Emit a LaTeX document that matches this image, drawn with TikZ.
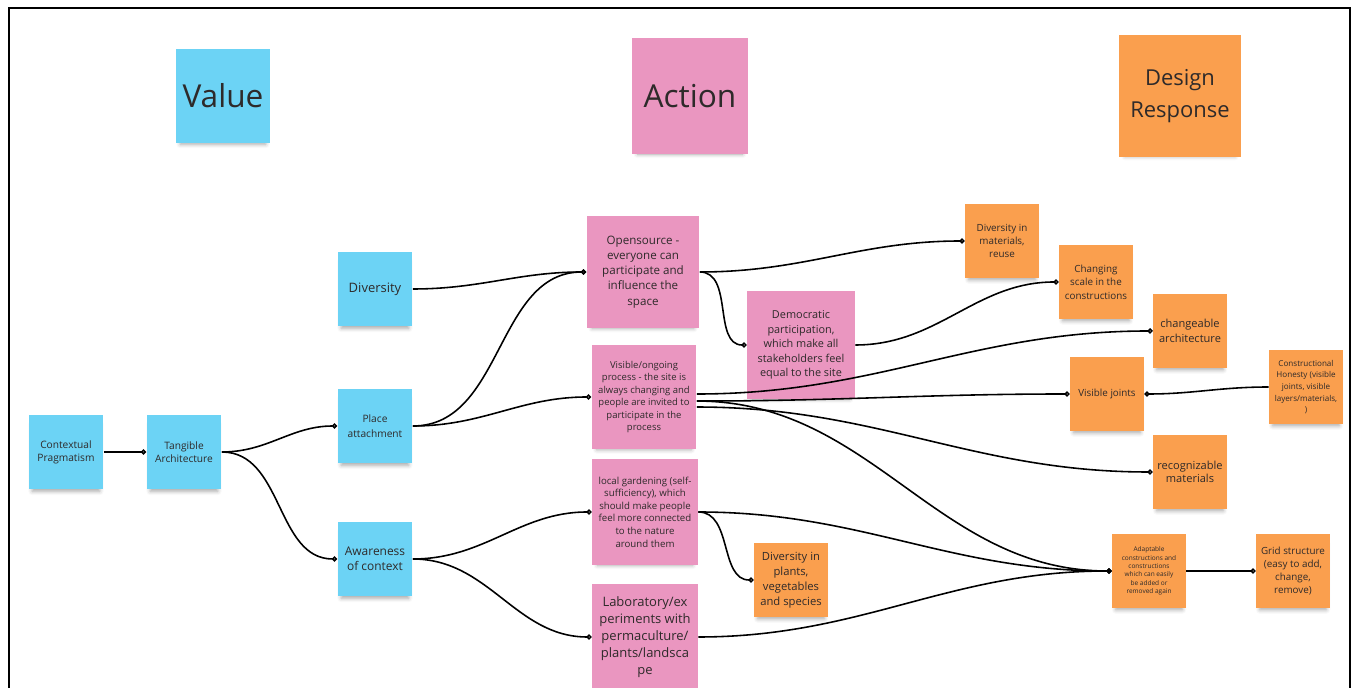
\documentclass[tikz,border=0pt]{standalone}
\usepackage{fontspec}
\setmainfont{Open Sans}
\usetikzlibrary{arrows.meta}
\usetikzlibrary{shadows.blur}

\definecolor{noteblue}{HTML}{6CD3F5}
\definecolor{notepink}{HTML}{EA96C0}
\definecolor{noteorange}{HTML}{FA9F4E}
\definecolor{notetext}{HTML}{2E2A2A}

\tikzset{
  note/.style={minimum width=#1, minimum height=#1, inner sep=1pt, align=center,
    text=notetext, blur shadow={shadow xshift=0pt, shadow yshift=-3.5pt,
    shadow opacity=35, shadow scale=0.9, shadow blur radius=2.5pt}},
  bluenote/.style={note=#1, fill=noteblue},
  pinknote/.style={note=#1, fill=notepink},
  orangenote/.style={note=#1, fill=noteorange},
  link/.style={line width=0.9pt, -{Circle[open,length=3pt,width=3pt]}},
}

\begin{document}
\begin{tikzpicture}[x=0.02cm, y=-0.02cm]
    \useasboundingbox (0,0) rectangle (1353,688);
    \draw[line width=1.6pt](9,690)--(9,8)--(1350,8)--(1350,690);%frame
    % - Column headings
    \node[bluenote=1.9cm, font=\fontsize{18}{22}\selectfont] (value) at (223,96){Value};
    \node[pinknote=2.34cm, font=\fontsize{18}{22}\selectfont] (action) at (690,96){Action};
    \node[orangenote=2.44cm, font=\fontsize{12.5}{18}\selectfont] (response) at (1180,96){Design\\Response};
    % - Values
    \node[bluenote=1.5cm, font=\fontsize{5.8}{7.4}\selectfont] (contextual) at (66,452){Contextual\\Pragmatism};
    \node[bluenote=1.5cm, font=\fontsize{5.8}{7.4}\selectfont] (tangible) at (184,452){Tangible\\Architecture};
    \node[bluenote=1.5cm, font=\fontsize{7.4}{9}\selectfont] (diversity) at (375,289){Diversity};
    \node[bluenote=1.5cm, font=\fontsize{5.8}{8.4}\selectfont] (place) at (375,426){Place\\attachment};
    \node[bluenote=1.5cm, font=\fontsize{6.8}{8.8}\selectfont] (awareness) at (375,559){Awareness\\of context};
    % - Actions
    \node[pinknote=2.26cm, font=\fontsize{6.6}{8.6}\selectfont] (opensource) at (643,272){Opensource -\\everyone can\\participate and\\influence the\\space};
    \node[pinknote=2.16cm, font=\fontsize{6.2}{8.2}\selectfont] (democratic) at (801,345){Democratic\\participation,\\which make all\\stakeholders feel\\equal to the site};
    \node[pinknote=2.1cm, font=\fontsize{5.4}{7.1}\selectfont] (visible) at (644,397){Visible/ongoing\\process - the site is\\always changing and\\people are invited to\\participate in the\\process};
    \node[pinknote=2.12cm, font=\fontsize{5.5}{7.2}\selectfont] (gardening) at (645,512){local gardening (self-\\sufficiency), which\\should make people\\feel more connected\\to the nature\\around them};
    \node[pinknote=2.12cm, font=\fontsize{7.4}{9.6}\selectfont] (laboratory) at (645,637){Laboratory/ex\\periments with\\permaculture/\\plants/landsca\\pe};
    % - Design responses
    \node[orangenote=1.48cm, font=\fontsize{6.4}{8.5}\selectfont] (plants) at (791,580){Diversity in\\plants,\\vegetables\\and species};
    \node[orangenote=1.48cm, font=\fontsize{5.6}{7.6}\selectfont] (materials) at (1002,241){Diversity in\\materials,\\reuse};
    \node[orangenote=1.48cm, font=\fontsize{5.6}{7.6}\selectfont] (scale) at (1096,282){Changing\\scale in the\\constructions};
    \node[orangenote=1.48cm, font=\fontsize{6.3}{8.3}\selectfont] (changeable) at (1190,331){changeable\\architecture};
    \node[orangenote=1.48cm, font=\fontsize{5.6}{7.6}\selectfont] (joints) at (1107,394){Visible joints};
    \node[orangenote=1.48cm, font=\fontsize{4.6}{6.6}\selectfont] (honesty) at (1306,387){Constructional\\Honesty (visible\\joints, visible\\layers/materials,\\)};
    \node[orangenote=1.48cm, font=\fontsize{6.3}{7.6}\selectfont] (recognizable) at (1190,472){recognizable\\materials};
    \node[orangenote=1.48cm, font=\fontsize{3.7}{4.8}\selectfont] (adaptable) at (1149,571){Adaptable\\constructions and\\constructions\\which can easily\\be added or\\removed again};
    \node[orangenote=1.48cm, font=\fontsize{5.6}{7.4}\selectfont] (grid) at (1293,571){Grid structure\\(easy to add,\\change,\\remove)};
    % - Connectors
    \draw[link](contextual.east)--(tangible.west);
    \draw[link](tangible.east) to[out=0,in=180] (place.west);
    \draw[link](tangible.east) to[out=0,in=180] (awareness.west);
    \draw[link](diversity.east) to[out=0,in=180] (opensource.west);
    \draw[link](place.east) to[out=0,in=180] (opensource.west);
    \draw[link](place.east) to[out=0,in=180] (visible.west);
    \draw[link](awareness.east) to[out=0,in=180] (gardening.west);
    \draw[link](awareness.east) to[out=0,in=180] (laboratory.west);
    \draw[link](opensource.east) to[out=0,in=180] (materials.west);
    \draw[link](opensource.east) to[out=0,in=180] (democratic.west);
    \draw[link](democratic.east) to[out=0,in=180] (scale.west);
    \draw[link]([yshift=1.7pt]visible.east) to[out=0,in=180] (changeable.west);
    \draw[link]([yshift=-2.3pt]visible.east) to[out=0,in=180] (joints.west);
    \draw[link]([yshift=-5.7pt]visible.east) to[out=0,in=180] (recognizable.west);
    \draw[link]([yshift=-2.3pt]visible.east) to[out=0,in=180] (adaptable.west);
    \draw[link](gardening.east) to[out=0,in=180] (adaptable.west);
    \draw[link](gardening.east) to[out=0,in=180] (plants.west);
    \draw[link](laboratory.east) to[out=0,in=180] (adaptable.west);
    \draw[link](adaptable.east)--(grid.west);
    \draw[link](honesty.west) to[out=180,in=0] (joints.east);
\end{tikzpicture}
\end{document}
